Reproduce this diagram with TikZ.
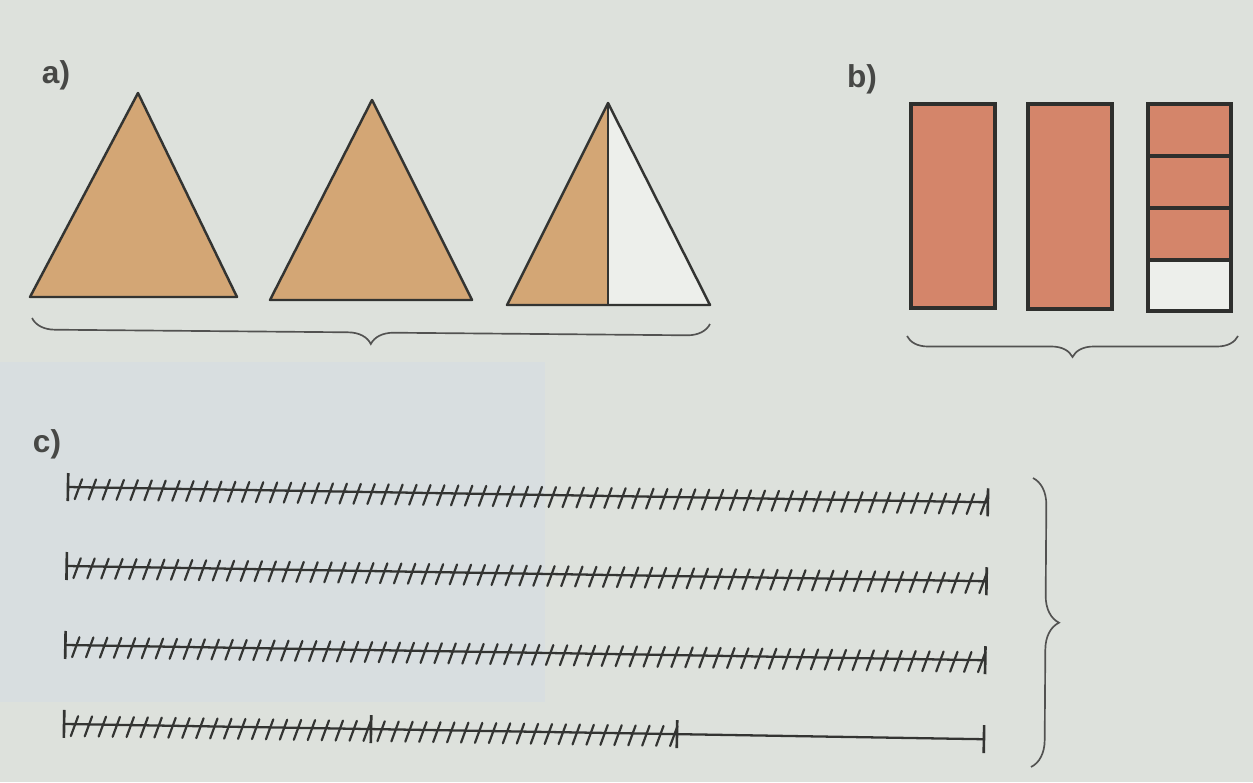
\documentclass[tikz,border=0pt]{standalone}
\usepackage{fontspec}
\setmainfont{Liberation Sans}
\usetikzlibrary{decorations.pathreplacing}
\definecolor{BookPaper}{HTML}{DDE1DC}
\definecolor{BookTint}{HTML}{D8DEE0}
\definecolor{BookInk}{HTML}{333432}
\definecolor{BookTan}{HTML}{D3A675}
\definecolor{BookRed}{HTML}{D4856A}
\definecolor{BookBlank}{HTML}{EDEFEB}
\tikzset{
  partLabel/.style={
    font=\fontsize{18pt}{20pt}\selectfont\bfseries,
    text=BookInk!90,
    inner sep=0pt
  },
  triFull/.style={
    fill=BookTan,
    draw=BookInk,
    line width=1.4pt,
    line join=round
  },
  barFull/.style={
    fill=BookRed,
    draw=BookInk!90!black,
    line width=2.1pt
  },
  barEmpty/.style={
    barFull,
    fill=BookBlank
  },
  groupBrace/.style={
    draw=BookInk!85,
    line width=0.95pt,
    decorate,
    decoration={brace, amplitude=#1}
  },
  hatchLine/.style={
    draw=BookInk,
    line width=1.3pt
  },
  hatchTick/.style={
    draw=BookInk,
    line width=1.5pt
  },
  hatchMark/.style={
    draw=BookInk,
    line width=1.25pt,
    line cap=round
  }
}
\begin{document}
\begin{tikzpicture}[x=0.02cm, y=-0.02cm]
    % Nen giay
    \useasboundingbox (0,0) rectangle (1253,782);
    \fill[BookPaper] (0,0) rectangle (1253,782);
    \fill[BookTint] (0,362) rectangle (545,702);

    % Phan a)
    \node (lbl_a) [partLabel] at (56,75) {a)};
    \draw[triFull] (138,93) -- (237,297) -- (30,297) -- cycle;
    \draw[triFull] (372,100) -- (472,300) -- (270,300) -- cycle;
    \fill[BookBlank] (608,103) -- (710,305) -- (608,305) -- cycle;
    \fill[BookTan] (608,103) -- (608,305) -- (507,305) -- cycle;
    \draw[triFull, fill=none] (608,103) -- (710,305) -- (507,305) -- cycle;
    \draw[triFull] (608,103) -- (608,305);
    \draw[groupBrace=0.46cm] (710,324) -- (32,318);

    % Phan b)
    \node (lbl_b) [partLabel] at (862,79) {b)};
    \draw[barFull] (911,104) rectangle (995,308);
    \draw[barFull] (1028,104) rectangle (1112,309);
    \draw[barEmpty] (1148,260) rectangle (1231,311);
    \foreach \top in {104,156,208} {
      \draw[barFull] (1148,\top) rectangle (1231,\top+52);
    }
    \draw[groupBrace=0.42cm] (1238,336) -- (907,336);

    % Phan c)
    \node (lbl_c) [partLabel] at (47,444) {c)};
    \begin{scope}[rotate around={-0.95:(68,487)}]
      \foreach \row/\nmarks in {0/66,1/66,2/66,3/44} {
        \pgfmathsetmacro\yy{487+79*\row}
        \draw[hatchLine] (68,\yy) -- (988,\yy);
        \draw[hatchTick] (68,\yy-14) -- (68,\yy+14);
        \draw[hatchTick] (988,\yy-14) -- (988,\yy+14);
        \foreach \i in {1,...,\nmarks} {
          \pgfmathsetmacro\xx{68+\i*13.9394}
          \draw[hatchMark] (\xx-7,\yy+12) -- (\xx,\yy-8);
        }
      }
      % vach chia tren doan cuoi
      \draw[hatchTick] (375,710) -- (375,738);
      \draw[hatchTick] (681,710) -- (681,738);
    \end{scope}
    \draw[groupBrace=0.54cm] (1033,478) -- (1031,767);
\end{tikzpicture}
\end{document}
